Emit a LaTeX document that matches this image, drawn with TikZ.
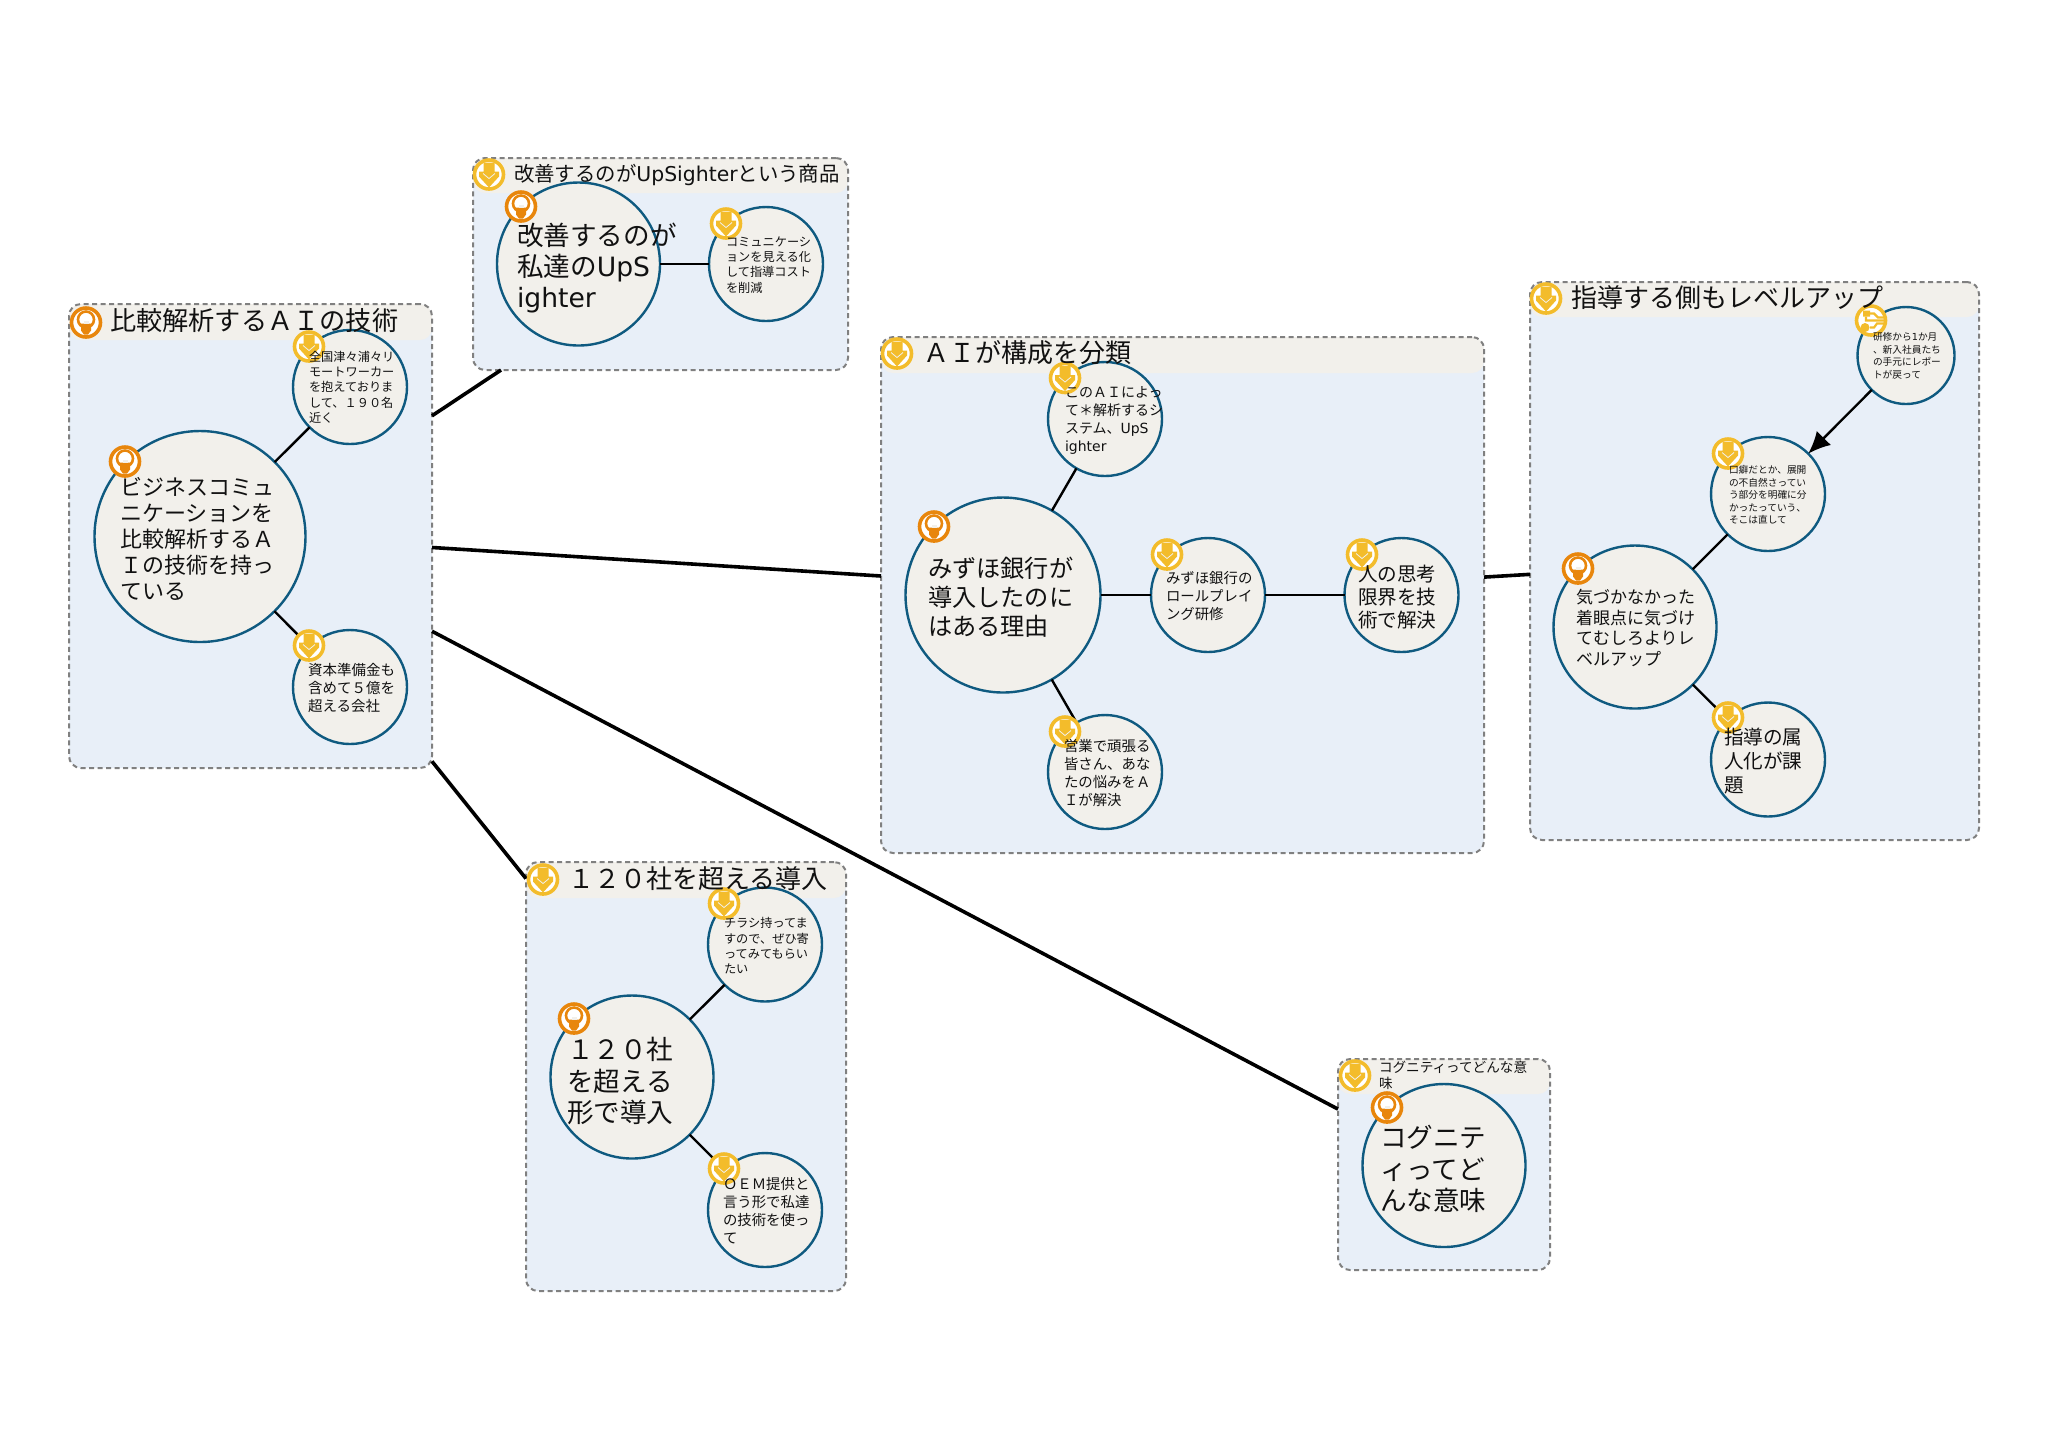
\documentclass[tikz,border=0pt]{standalone}
\usepackage{fontspec}
\usepackage{tikz}
\usetikzlibrary{arrows.meta}
\setmainfont{Noto Sans CJK JP}
\newfontfamily\latfont{DejaVu Sans}
\newcommand{\lat}[1]{{\latfont #1}}
\newcommand{\fs}[2]{\fontsize{#1}{#2}\selectfont}
\definecolor{grpfill}{HTML}{E8EFF8}
\definecolor{hdrfill}{HTML}{F2F0EB}
\definecolor{grpline}{HTML}{808080}
\definecolor{ringline}{HTML}{0F5A80}
\definecolor{iconorange}{HTML}{E8860C}
\definecolor{iconyellow}{HTML}{F3BC2B}
\definecolor{txtcol}{HTML}{111111}
\tikzset{
  grpbox/.style n args={3}{
    rectangle, rounded corners=6pt, draw=grpline, fill=grpfill, line width=1pt,
    dash pattern=on 2.5pt off 1.75pt, inner sep=0pt, outer sep=0pt,
    minimum width=#1, minimum height=#2,
    path picture={\fill[hdrfill] (path picture bounding box.north west) rectangle
      ([yshift=-#3]path picture bounding box.north east);}},
  topic/.style={circle, draw=ringline, fill=hdrfill, line width=1.2pt, inner sep=0pt, outer sep=0pt, minimum size=#1},
  badge/.style={circle, fill=white, line width=1.8pt, inner sep=0pt, outer sep=0pt, minimum size=14.5pt},
  ideaicon/.style={badge, draw=iconorange, path picture={
    \draw[iconorange, line width=1.3pt, shift={(path picture bounding box.center)}] (0,-3) circle (8);
    \fill[iconorange, shift={(path picture bounding box.center)}] (-5,1) -- (5,1) -- (5,8) -- (2,12) -- (-2,12) -- (-5,8) -- cycle;
    \fill[hdrfill, shift={(path picture bounding box.center)}] (-2.5,-2) rectangle (2.5,1);}},
  arrowicon/.style={badge, draw=iconyellow, path picture={
    \fill[iconyellow, shift={(path picture bounding box.center)}] (-5.5,-12) -- (5.5,-12) -- (5.5,-3) -- (10,-3) -- (10,2) -- (0,13) -- (-10,2) -- (-10,-3) -- (-5.5,-3) -- cycle;
    \draw[hdrfill, line width=0.4pt, shift={(path picture bounding box.center)}] (-6,-1) -- (0,4) -- (6,-1);}},
  neticon/.style={badge, draw=iconyellow, path picture={
    \begin{scope}[shift={(path picture bounding box.center)}]
    \fill[iconyellow] (-8,-10) rectangle (-1,-4) (-6,7) circle (4.5);
    \draw[iconyellow, line width=1.1pt] (-1,-7) -- (3,-7) -- (7,-3) -- (13,-3)
      (-1,7) -- (3,7) -- (6,3) -- (13,3) (-5,-4) -- (-5,0) -- (13,0);
    \end{scope}}},
  lbl/.style={anchor=west, align=left, inner sep=0pt, outer sep=0pt, text=txtcol},
  link/.style={line width=1.8pt, black},
  spoke/.style={line width=1.2pt, black},
  thinspoke/.style={line width=0.8pt, black}
}
\begin{document}
\begin{tikzpicture}[x=0.5pt,y=-0.5pt]
\useasboundingbox (0,0) rectangle (2048,1448);
% groups
\node[grpbox={181.5pt}{232pt}{18pt}] (grpTech) at (250.5,536) {};
\node[grpbox={187.5pt}{106pt}{17.5pt}] (grpGoods) at (660.5,264) {};
\node[grpbox={301.5pt}{258pt}{18pt}] (grpBank) at (1182.5,595) {};
\node[grpbox={224.5pt}{279pt}{17.5pt}] (grpCoach) at (1754.5,561) {};
\node[grpbox={160pt}{214.5pt}{18pt}] (grpFirms) at (686,1076.5) {};
\node[grpbox={106pt}{105.5pt}{17.5pt}] (grpWord) at (1444,1164.5) {};
\draw[link] (grpTech) -- (grpGoods);
\draw[link] (grpTech) -- (grpBank);
\draw[link] (grpBank) -- (grpCoach);
\draw[link] (grpTech) -- (grpWord);
\draw[link] (grpTech) -- (grpFirms);
% circles
\node[topic=105.5pt] (mainTech) at (200,536.5) {};
\node[topic=57pt] (techUp) at (350,387) {};
\node[topic=57pt] (techLow) at (350,687) {};
\node[topic=81.5pt] (mainGoods) at (578.5,264) {};
\node[topic=57pt] (goodsSub) at (766,264) {};
\node[topic=97.5pt] (mainBank) at (1003,595) {};
\node[topic=57pt] (bankUp) at (1105,419) {};
\node[topic=57pt] (bankMid) at (1208,595) {};
\node[topic=57pt] (bankFar) at (1401.5,595) {};
\node[topic=57pt] (bankLow) at (1105,772) {};
\node[topic=81.5pt] (mainCoach) at (1635,627) {};
\node[topic=48.5pt] (coachTop) at (1906,355.5) {};
\node[topic=57pt] (coachMid) at (1768,494) {};
\node[topic=57pt] (coachLow) at (1768,759.5) {};
\node[topic=81.5pt] (mainFirms) at (632,1077) {};
\node[topic=57pt] (firmsUp) at (765,944.5) {};
\node[topic=57pt] (firmsLow) at (765,1210) {};
\node[topic=81.5pt] (mainWord) at (1444,1165.5) {};
% spokes
\draw[spoke] (mainTech) -- (techUp);
\draw[spoke] (mainTech) -- (techLow);
\draw[spoke] (mainGoods) -- (goodsSub);
\draw[spoke] (mainBank) -- (bankUp);
\draw[spoke] (mainBank) -- (bankMid);
\draw[thinspoke] (bankMid) -- (bankFar);
\draw[spoke] (mainBank) -- (bankLow);
\draw[spoke] (mainCoach) -- (coachMid);
\draw[spoke] (mainCoach) -- (coachLow);
\draw[spoke, -{Latex[length=11pt,width=10pt]}] (coachTop) -- (coachMid);
\draw[spoke] (mainFirms) -- (firmsUp);
\draw[spoke] (mainFirms) -- (firmsLow);
% icons
\node[ideaicon] (iconTech) at (86,322.5) {};
\node[ideaicon] (iconMainTech) at (125,461.5) {};
\node[arrowicon] (iconTechUp) at (309,346.5) {};
\node[arrowicon] (iconTechLow) at (309,645.5) {};
\node[arrowicon] (iconGoods) at (489,174.5) {};
\node[ideaicon] (iconMainGoods) at (521,206.5) {};
\node[arrowicon] (iconGoodsSub) at (726,223.5) {};
\node[arrowicon] (iconBank) at (897,353.5) {};
\node[ideaicon] (iconMainBank) at (934,526.5) {};
\node[arrowicon] (iconBankUp) at (1065,378) {};
\node[arrowicon] (iconBankMid) at (1167,554.5) {};
\node[arrowicon] (iconBankFar) at (1362,554.5) {};
\node[arrowicon] (iconBankLow) at (1065,731.5) {};
\node[arrowicon] (iconCoach) at (1546,298.5) {};
\node[neticon] (iconCoachTop) at (1871,320.5) {};
\node[arrowicon] (iconCoachMid) at (1728,453.5) {};
\node[ideaicon] (iconMainCoach) at (1578,568.5) {};
\node[arrowicon] (iconCoachLow) at (1728,717.5) {};
\node[arrowicon] (iconFirms) at (543,879.5) {};
\node[ideaicon] (iconMainFirms) at (574,1018.5) {};
\node[arrowicon] (iconFirmsUp) at (724,903.5) {};
\node[arrowicon] (iconFirmsLow) at (724,1168.5) {};
\node[arrowicon] (iconWord) at (1355,1075.5) {};
\node[ideaicon] (iconMainWord) at (1387,1107.5) {};
% texts
\node[lbl, font=\fs{13.1}{15}] (ttlTech) at (110,321) {比較解析するＡＩの技術};
\node[lbl, font=\fs{11}{13}] (txtMainTech) at (120,539) {ビジネスコミュ\\ニケーションを\\比較解析するＡ\\Ｉの技術を持っ\\ている};
\node[lbl, font=\fs{6.1}{7.65}] (txtTechUp) at (309,387) {全国津々浦々リ\\モートワーカー\\を抱えておりま\\して、１９０名\\近く};
\node[lbl, font=\fs{7.25}{8.85}] (txtTechLow) at (308,688) {資本準備金も\\含めて５億を\\超える会社};
\node[lbl, font=\fs{10.2}{12}] (ttlGoods) at (514,174.5) {改善するのが\lat{UpSighter}という商品};
\node[lbl, font=\fs{13.3}{15.75}] (txtMainGoods) at (517,268) {改善するのが\\私達の\lat{UpS}\\\lat{ighter}};
\node[lbl, font=\fs{6.1}{7.65}] (txtGoodsSub) at (726,265) {コミュニケーシ\\ョンを見える化\\して指導コスト\\を削減};
\node[lbl, font=\fs{13}{15}] (ttlBank) at (923,352.5) {ＡＩが構成を分類};
\node[lbl, font=\fs{12.1}{14.5}] (txtMainBank) at (928,597) {みずほ銀行が\\導入したのに\\はある理由};
\node[lbl, font=\fs{7}{9}] (txtBankUp) at (1065,420.5) {このＡＩによっ\\て＊解析するシ\\ステム、\lat{UpS}\\\lat{ighter}};
\node[lbl, font=\fs{7.2}{9}] (txtBankMid) at (1166,596.5) {みずほ銀行の\\ロールプレイ\\ング研修};
\node[lbl, font=\fs{9.8}{11.6}] (txtBankFar) at (1358,597) {人の思考\\限界を技\\術で解決};
\node[lbl, font=\fs{7.2}{9}] (txtBankLow) at (1064,773.5) {営業で頑張る\\皆さん、あな\\たの悩みをＡ\\Ｉが解決};
\node[lbl, font=\fs{13}{15}] (ttlCoach) at (1571,298) {指導する側もレベルアップ};
\node[lbl, font=\fs{4.85}{6.25}] (txtCoachTop) at (1873,356) {研修から\lat{1}か月\\、新入社員たち\\の手元にレポー\\トが戻って};
\node[lbl, font=\fs{4.85}{6.25}] (txtCoachMid) at (1729,495) {口癖だとか、展開\\の不自然さってい\\う部分を明確に分\\かったっていう、\\そこは直して};
\node[lbl, font=\fs{8.5}{10.3}] (txtMainCoach) at (1576,628) {気づかなかった\\着眼点に気づけ\\てむしろよりレ\\ベルアップ};
\node[lbl, font=\fs{9.8}{11.8}] (txtCoachLow) at (1724,761) {指導の属\\人化が課\\題};
\node[lbl, font=\fs{13}{15}] (ttlFirms) at (568,879) {１２０社を超える導入};
\node[lbl, font=\fs{13.3}{15.75}] (txtMainFirms) at (567,1081) {１２０社\\を超える\\形で導入};
\node[lbl, font=\fs{6.1}{7.65}] (txtFirmsUp) at (724,946) {チラシ持ってま\\すので、ぜひ寄\\ってみてもらい\\たい};
\node[lbl, font=\fs{7.2}{9}] (txtFirmsLow) at (723,1211) {ＯＥＭ提供と\\言う形で私達\\の技術を使っ\\て};
\node[lbl, font=\fs{6.8}{8}] (ttlWord) at (1379,1075.5) {コグニティってどんな意\\味};
\node[lbl, font=\fs{13.3}{15.75}] (txtMainWord) at (1380,1169) {コグニテ\\ィってど\\んな意味};
\end{tikzpicture}
\end{document}
